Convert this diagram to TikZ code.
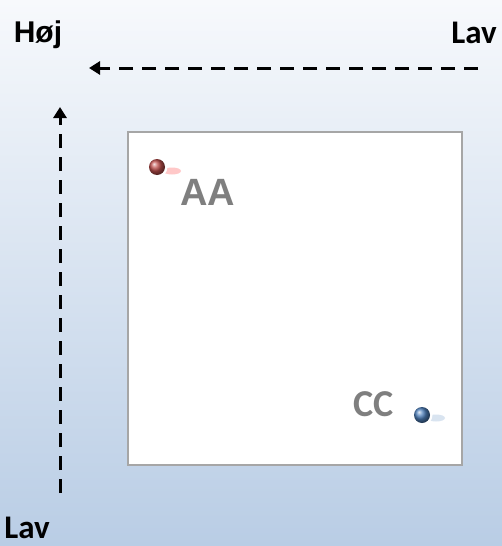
\documentclass[tikz,border=0pt]{standalone}
\usepackage{fontspec}
\setmainfont{Carlito}
\newfontfamily\arialf{Liberation Sans}
\usetikzlibrary{arrows.meta}
\definecolor{bgtop}{HTML}{F7F9FC}
\definecolor{bgbot}{HTML}{B9CDE5}
\definecolor{boxline}{HTML}{A6A6A6}
\definecolor{lblgray}{HTML}{7F7F7F}
\definecolor{redball}{HTML}{C0504D}
\definecolor{blueball}{HTML}{4F81BD}
\tikzset{
  axis/.style={line width=3pt, dash pattern=on 14pt off 9pt, -{Triangle[length=11pt,width=13pt]}},
  axlbl/.style={font=\bfseries\fontsize{33}{36}\selectfont, text=black, inner sep=0pt, anchor=base},
  ptlbl/.style={text=lblgray, inner sep=0pt, anchor=base},
}
\begin{document}
\begin{tikzpicture}[x=1pt,y=-1pt]
\shade[top color=bgtop, bottom color=bgbot] (0,0) rectangle (502,546);
\useasboundingbox (0,0) rectangle (502,546);
% labels
\node[axlbl, font=\arialf\bfseries\fontsize{30}{32}\selectfont] (hoj) at (38,42) {Høj};
\node[axlbl] (lavtop) at (474,43) {Lav};
\node[axlbl] (lavbot) at (27,538) {Lav};
% axes
\coordinate (hs) at (478,68);
\coordinate (he) at (89,68);
\coordinate (vs) at (60,493);
\coordinate (ve) at (60,107);
\draw[axis] (hs) -- (he);
\draw[axis] (vs) -- (ve);
% box
\node[draw=boxline, line width=1.5pt, fill=white, minimum width=334pt, minimum height=333pt, anchor=north west, inner sep=0pt] (box) at (127,131) {};
% red point
\fill[red!30, opacity=0.7] (172,171) ellipse (9pt and 3.5pt);
\fill[white] (157,167) circle (10.5pt);
\shade[ball color=redball] (157,167) circle (8pt);
\node[ptlbl, font=\arialf\bfseries\fontsize{38}{40}\selectfont] (aa) at (208,205) {AA};
% blue point
\fill[blueball!30, opacity=0.7] (436,418) ellipse (9pt and 3.5pt);
\fill[white] (422,415) circle (10.5pt);
\shade[ball color=blueball] (422,415) circle (8pt);
\node[ptlbl, font=\bfseries\fontsize{38}{40}\selectfont] (cc) at (374,416) {CC};
\end{tikzpicture}
\end{document}
